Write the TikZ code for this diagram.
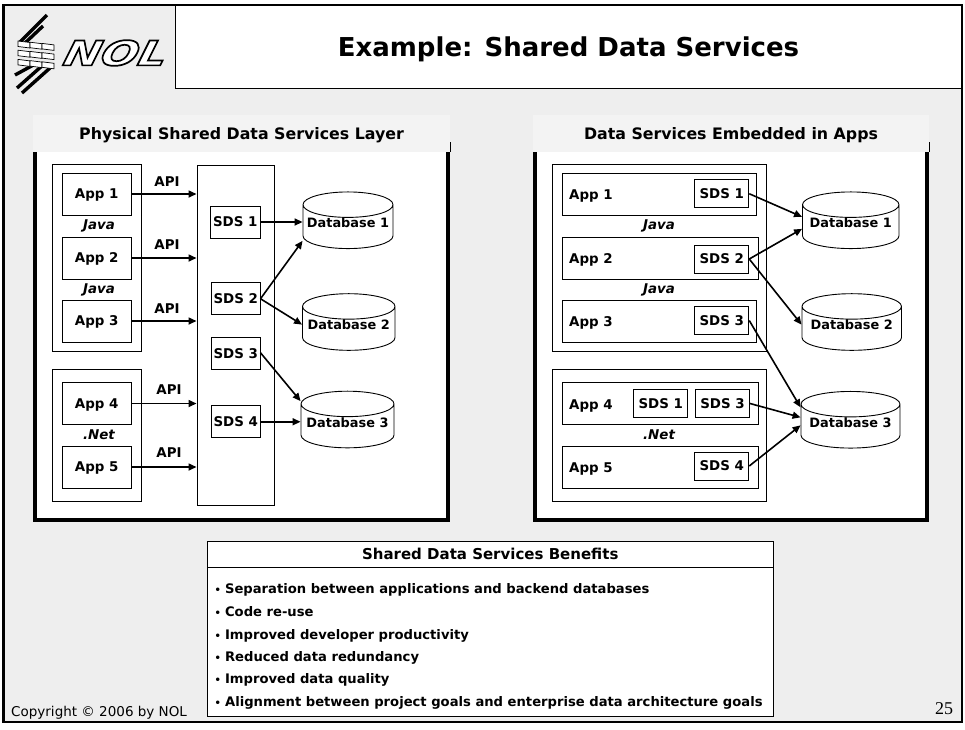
\documentclass[tikz,border=0pt]{standalone}
\usepackage{fontspec}
\setmainfont{DejaVu Sans}
\newfontfamily\pagefont{Liberation Serif}
\newfontfamily\nolfont[FakeSlant=0.5,FakeStretch=1.3]{DejaVu Sans Bold}
\usetikzlibrary{shapes.geometric,arrows.meta}

\begin{document}
\begin{tikzpicture}[x=1pt,y=-1pt]
    \pgfmathsetmacro{\appwidth}{69.5}
    \pgfmathsetmacro{\appheight}{42}
    \pgfmathsetmacro{\sdsheight}{28}
    \definecolor{pagegray}{HTML}{EEEEEE}
    \definecolor{bandgray}{HTML}{F3F3F3}
    \providecommand{\labelfontsize}{\fontsize{13.4}{16}\selectfont}
    \tikzset{
        box/.style={draw=black,line width=1pt,fill=white,inner sep=0pt,text depth=0pt,font=\labelfontsize\bfseries},
        lang/.style={inner sep=0pt,text depth=0pt,font=\labelfontsize\bfseries\itshape},
        api/.style={inner sep=0pt,text depth=0pt,font=\labelfontsize\bfseries},
        band/.style={fill=bandgray,inner sep=0pt,text depth=0pt,font=\fontsize{15.8}{18}\selectfont\bfseries},
        panel/.style={fill=white,inner sep=0pt},
        thickframe/.style={line width=4pt,line cap=rect},
        db/.style={cylinder,shape border rotate=90,aspect=0.31,anchor=shape center,draw=black,line width=0.9pt,fill=white,inner sep=0pt,text height=10pt,text depth=8pt,font=\fontsize{12.9}{16}\selectfont\bfseries},
        link/.style={line width=1.6pt,-{Triangle[length=8pt,width=7pt]}},
        logostripe/.style={line width=3.4pt,black},
        benefit/.style={anchor=west,inner sep=0pt,text depth=0pt,font=\fontsize{13.14}{15}\selectfont\bfseries}
    }
    \useasboundingbox (0,0) rectangle (965,729);
    \fill[white] (0,0) rectangle (965,729);
    \fill[pagegray] (3.5,5) rectangle (962,722);

    % header
    \node[draw=black,line width=1pt,fill=white,minimum width=787pt,minimum height=83pt,inner sep=0pt] (titlebox) at (568.5,46.5) {};
    \node[inner sep=0pt,font=\fontsize{26}{30}\selectfont\bfseries] (title) at (568.5,49) {Example: Shared Data Services};
    \draw[line width=2.4pt] (3.5,5) rectangle (962,722);

    % logo
    \draw[logostripe] (47,15) -- (20,42) (43,26) -- (24,44);
    \draw[logostripe] (50,68) -- (22,93) (43,65) -- (17,88) (37,63) -- (15,75);
    \foreach \row in {0,1,2}
        \foreach \col in {0,1,2}
            \fill[white,draw=black,line width=0.7pt] (18+12*\col,41+9.2*\row+1.2*\col) -- ++(12,1.5) -- ++(0,5.5) -- ++(-12,-1.5) -- cycle;
    \node[inner sep=0pt,font=\fontsize{34}{36}\selectfont] (nol) at (110,53) {\nolfont\special{pdf:code 2 Tr 1.7 w 0 G 1 g}NOL\special{pdf:code 0 Tr 0 g}};

    % left panel
    \node[panel,minimum width=413pt,minimum height=368pt] (panelL) at (241.5,336) {};
    \draw[thickframe] (panelL.north west) -- (panelL.south west) -- (panelL.south east) -- (panelL.north east);
    \node[band,minimum width=417pt,minimum height=37pt] (bandL) at (241.5,133.5) {Physical Shared Data Services Layer};
    \draw[line width=0.8pt] ([yshift=-8.5pt]bandL.east) -- (bandL.south east);

    \node[box,minimum width=89pt,minimum height=187pt] (groupLa) at (96.5,257.5) {};
    \node[box,minimum width=89pt,minimum height=131.5pt] (groupLb) at (96.5,435.25) {};
    \node[box,minimum width=77pt,minimum height=340pt] (layer) at (235.5,335) {};
    \foreach \n/\y in {1/194,2/258,3/321,4/403.5,5/467}
        \node[box,minimum width=\appwidth pt,minimum height=\appheight pt] (appL\n) at (96.75,\y) {App \n};
    \foreach \n/\t/\y in {a/Java/225,b/Java/289,c/.Net/435}
        \node[lang] (langL\n) at (99,\y) {\t};
    \foreach \n/\x/\w/\y in {1/235.25/50.5/222,2/235.75/48.5/298.75,3/235.75/48.5/353.75,4/235.75/48.5/421.75}
        \node[box,minimum width=\w pt,minimum height=32pt] (sdsL\n) at (\x,\y) {SDS \n};
    \foreach \n/\x/\w/\y in {1/348/90/220.25,2/348.75/92.5/322,3/347.5/93/419.5}
        \node[db,minimum width=\w pt,minimum height=56pt] (dbL\n) at (\x,\y) {Database \n};
    \foreach \n/\x/\y in {1/167/182,2/167/245,3/167/309,4/169/390,5/169/453}{
        \node[api] (apiL\n) at (\x,\y) {API};
        \draw[link] (appL\n.east) -- (appL\n.east -| layer.west);
    }
    \draw[link] (sdsL1.east) -- (sdsL1.east -| dbL1.west);
    \draw[link] (sdsL2.east) -- ([yshift=-14pt]dbL1.west);
    \draw[link] (sdsL2.east) -- ([yshift=4pt]dbL2.west);
    \draw[link] ([yshift=1pt]sdsL3.east) -- ([yshift=25pt]dbL3.west);
    \draw[link] (sdsL4.east) -- (sdsL4.east -| dbL3.west);

    % right panel
    \node[panel,minimum width=392pt,minimum height=368pt] (panelR) at (731,336) {};
    \draw[thickframe] (panelR.north west) -- (panelR.south west) -- (panelR.south east) -- (panelR.north east);
    \node[band,minimum width=396pt,minimum height=37pt] (bandR) at (731,133.5) {Data Services Embedded in Apps};
    \draw[line width=0.8pt] ([yshift=-8.5pt]bandR.east) -- (bandR.south east);

    \node[box,minimum width=214.5pt,minimum height=187pt] (groupRa) at (659.25,257.5) {};
    \node[box,minimum width=214.5pt,minimum height=131.5pt] (groupRb) at (659.25,435.25) {};
    \foreach \n/\w/\y in {1/194.5/194,2/196/258,3/194.5/321,4/196/403.5,5/196/467}{
        \node[box,minimum width=\w pt,minimum height=\appheight pt] (appR\n) at (562+\w/2,\y) {};
        \node[api,anchor=west] (appRlabel\n) at (569,\y+1) {App \n};
    }
    \foreach \n/\t/\y in {a/Java/225,b/Java/289,c/.Net/435}
        \node[lang] (langR\n) at (659,\y) {\t};
    \foreach \n/\t/\x/\y in {a/1/721.75/193.75,b/2/721.75/259,c/3/721.75/320.5,d/1/660.75/403.25,e/3/722.5/403.5,f/4/721.75/466}
        \node[box,minimum width=54pt,minimum height=\sdsheight pt] (sdsR\n) at (\x,\y) {SDS \t};
    \foreach \n/\x/\w/\y in {1/850.75/96.5/220.25,2/851.75/99.5/322,3/850.5/99/419.75}
        \node[db,minimum width=\w pt,minimum height=56pt] (dbR\n) at (\x,\y) {Database \n};
    \draw[link] (sdsRa.east) -- ([yshift=10pt]dbR1.west);
    \draw[link] (sdsRb.east) -- ([yshift=-2pt]dbR1.west);
    \draw[link] (sdsRb.east) -- ([yshift=4pt]dbR2.west);
    \draw[link] (sdsRc.east) -- ([yshift=19pt]dbR3.west);
    \draw[link] (sdsRe.east) -- ([yshift=9pt]dbR3.west);
    \draw[link] (sdsRf.east) -- ([yshift=1pt]dbR3.west);

    % benefits
    \node[box,minimum width=566.5pt,minimum height=175.5pt] (benefitsbox) at (490.25,628.75) {};
    \node[box,minimum width=566.5pt,minimum height=26.5pt,font=\fontsize{15}{18}\selectfont\bfseries] (benefitshead) at (490.25,554.25) {Shared Data Services Benefits};
    \foreach \n/\y/\t in {1/588/Separation between applications and backend databases,
                          2/611.5/Code re-use,
                          3/634/Improved developer productivity,
                          4/656/Reduced data redundancy,
                          5/678.5/Improved data quality,
                          6/701/Alignment between project goals and enterprise data architecture goals}
        \node[benefit] (item\n) at (214.5,\y) {{\fontsize{10}{12}\selectfont•}\kern4pt\t};

    \node[anchor=west,inner sep=0pt,text depth=0pt,font=\fontsize{13.5}{16}\selectfont] (copyright) at (11,711) {Copyright © 2006 by NOL};
    \node[inner sep=0pt,font=\pagefont\fontsize{18}{20}\selectfont] (pageno) at (944,709) {25};
\end{tikzpicture}
\end{document}
